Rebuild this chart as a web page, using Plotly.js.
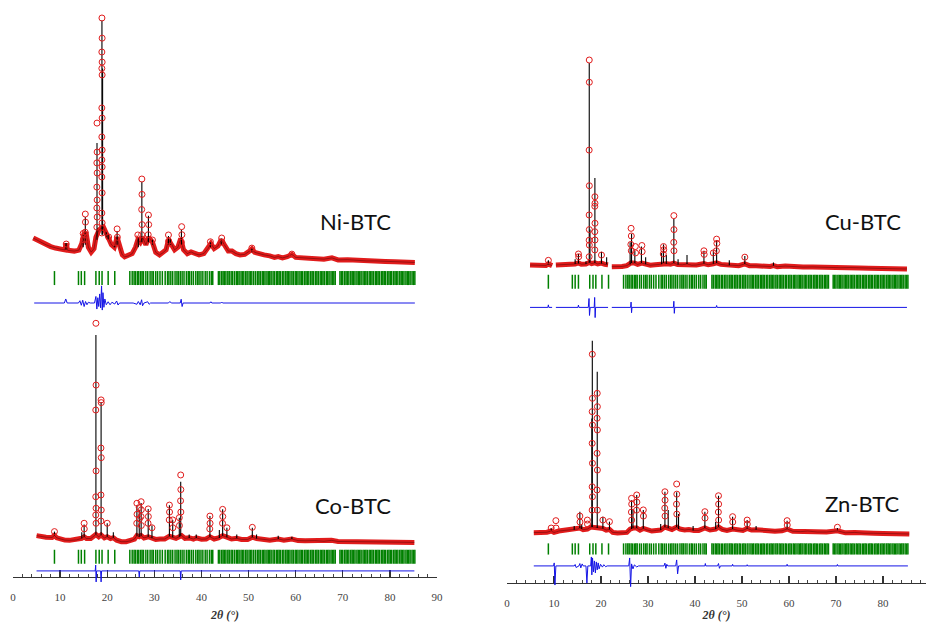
<!DOCTYPE html>
<html>
<head>
<meta charset="utf-8">
<script src="https://cdn.plot.ly/plotly-3.0.1.min.js"></script>
<style>html,body{margin:0;padding:0;background:#fff;}#chart{width:926px;height:622px;}</style>
</head>
<body>
<div id="chart"></div>
<script>
// ---------------- DATA (intensity in relative units, 2θ in degrees) ----------------
// Shared Bragg reflection positions (green tick marks)
const braggX = [8.8, 13.9, 14.5, 15.2, 17.6, 18.3, 18.9, 20.2, 21.6,
24.8, 25.3, 25.7, 26.0, 26.4, 26.7, 27.1, 27.4, 27.7, 28.2, 28.6, 29.1, 29.5, 29.8, 30.3, 30.7, 31.2, 31.7, 32.3, 32.8, 33.1, 33.5, 33.9, 34.4, 34.8, 35.1, 35.5, 35.9, 36.3, 36.8, 37.2, 37.5, 37.9, 38.3, 38.8, 39.2, 39.5, 39.9, 40.3, 40.8, 41.2, 41.7, 42.1, 42.4,
43.6, 43.9, 44.3, 44.6, 44.9, 45.2, 45.6, 45.9, 46.3, 46.6, 47.0, 47.4, 47.7, 48.0, 48.4, 48.7, 49.0, 49.4, 49.7, 50.1, 50.4, 50.7, 51.1, 51.5, 51.9, 52.2, 52.5, 52.9, 53.2, 53.5, 53.9, 54.2, 54.5, 54.8, 55.2, 55.5, 55.9, 56.2, 56.5, 56.8, 57.2, 57.5, 57.9, 58.2, 58.5, 58.8, 59.2, 59.5, 59.9, 60.2, 60.5, 60.9, 61.2, 61.5, 61.9, 62.2, 62.5, 62.8, 63.2, 63.5, 63.8, 64.2, 64.5, 64.8, 65.2, 65.5, 65.8, 66.1, 66.5, 66.8, 67.1, 67.5, 67.8, 68.1, 68.4, 69.4, 69.7, 70.0, 70.4, 70.7, 71.0, 71.3, 71.7, 72.0, 72.3, 72.6, 73.0, 73.3, 73.6, 73.9, 74.3, 74.6, 74.9, 75.2, 75.6, 75.9, 76.2, 76.5, 76.9, 77.2, 77.5, 77.8, 78.2, 78.5, 78.8, 79.1, 79.5, 79.8, 80.1, 80.4, 80.8, 81.1, 81.4, 81.7, 82.1, 82.4, 82.7, 83.0, 83.4, 83.7, 84.0, 84.3, 84.7, 85.0, 85.3];

// ---- Ni-BTC ----
const niBgX = [4.3,5,6,7,8,9,10,11,11.3,11.6,13,14,14.6,15.0,15.5,16.0,16.6,17.2,17.6,18.3,19.2,19.8,20.3,20.9,21.5,22.1,22.6,23.2,23.7,24.5,25.3,26.0,26.5,27.0,27.5,28.2,28.8,29.6,30.3,31.1,31.8,32.5,33.0,33.6,34.3,35.0,35.6,36.2,37.0,37.8,38.5,39.5,40.5,41.4,42.0,42.7,43.5,44.2,44.9,45.7,46.5,47.3,48.2,49.2,50.2,50.7,51.3,52.4,53.3,54.5,55.5,56.3,57.2,58.2,59.2,60.0,61.5,63.0,64.5,66.0,67.7,69.0,71.0,73.0,75.0,77.0,79.0,81.0,83.0,85.3];
const niBgY = [12.7,12.0,10.9,10.0,9.3,8.7,8.3,8.0,10.5,7.8,7.5,7.9,10.5,14,15,9,7.1,8.5,13,16,17,14,12.5,10,9,13,9,6,5.2,5.6,6.5,9,12,11,13,10,13,11,7,6.0,6.8,8,12,10.5,8,9,12.5,8,6.5,7.2,6.5,6.0,6.5,8.5,10.5,8.5,9.5,12,10,7.5,7.5,6.5,6.0,6.2,7.5,8.4,7,6.3,6.0,5.6,5.0,5.3,4.8,5.3,6.2,5.0,4.8,4.6,4.4,4.3,4.8,4.0,4.1,3.8,3.6,3.6,3.4,3.3,3.2,3.0];
const niPkX    = [11.25,14.9,15.35,17.83,18.88,19.02,19.8,20.2,21.6,22.1,26.6,27.35,28.75,29.6,33.0,33.4,35.75,41.9,44.2,50.7];
const niPkBase = [8,9,10,12,14,14,13,12,9,10,9,11,11,10,10,10,10,9,10,7];
const niPkCalc = [10.7,14,21,50.4,99,80,15,14,9.5,15.5,13,35,21.5,12,13.5,12.5,16,11,12.5,8.4];
const niObsX = [18.88,18.92,18.86,18.92,18.86,18.92,18.86,18.92,18.86,18.92,18.86,18.92,18.86,18.92,18.86,18.92,18.86,
 17.83,17.86,17.80,17.86,17.80,17.86,17.80,17.86,17.80,
 15.35,15.38,15.32,15.4, 14.9,14.95, 27.35,27.38,27.32,27.4,27.3, 28.75,28.8,28.7, 22.1,22.15,
 29.6,33.0,33.05,35.8,35.85,35.75,41.9,44.3,44.35,50.7,59.2,20.3,26.5,11.3];
const niObsY = [100,92,86.5,82.5,80,77.4,64.3,60.3,52.8,47.6,43.7,40.9,36.9,30.6,22.6,18.7,14.7,
 58.3,46.8,42.5,38.5,32.9,27.8,24.6,21,17,
 22.2,19,15,12, 14.5,12, 36.1,30,24,18,14, 21.8,18,14, 16.3,13,
 11.9,13.9,11.5,17.2,14,11,11.2,12.7,11,8.7,6.3,13.1,13.9,10.3];
const niDiffX = [4.5,10.9,11.2,11.5,13.9,14.2,14.5,14.8,15.1,15.4,15.7,16.0,16.4,17.3,17.6,17.8,18.0,18.2,18.4,18.6,18.8,18.95,19.1,19.3,19.5,19.8,20.2,20.6,21.0,21.6,22.0,22.3,22.6,25.5,26.3,26.6,27.0,27.3,27.5,27.8,28.6,28.9,29.2,33.0,33.3,33.6,35.5,35.7,35.9,36.1,41.8,42.0,42.2,44.1,44.3,44.5,85.3];
const niDiffY = [-13.1,-13.1,-11.5,-13.1,-13.1,-12.2,-14.0,-12.0,-14.5,-12.5,-13.8,-12.8,-13.1,-13.1,-10.5,-15.5,-11.0,-14.5,-9.5,-15.0,-6.3,-15.9,-9.0,-14.8,-11.5,-13.8,-12.6,-13.8,-12.8,-13.5,-12.3,-13.9,-13.1,-13.1,-13.6,-12.5,-13.8,-11.8,-14.2,-13.1,-12.6,-13.6,-13.1,-13.1,-12.5,-13.1,-13.1,-11.6,-14.5,-13.1,-13.1,-12.6,-13.1,-13.1,-12.7,-13.1,-13.1];

// ---- Cu-BTC ----
const cuBgX = [4.9,6,7,8.3,8.8,9.3,9.6,null,10.4,11.5,12.5,13.5,14.5,15.2,15.8,16.8,17.5,18.0,18.7,19.3,20.1,20.8,21.5,null,22.3,23.5,24.5,25.5,26.4,27.2,27.8,28.7,29.5,30.5,31.5,32.5,33.3,34.0,34.8,35.5,36.3,37.3,38.3,39.3,40.3,41.9,42.8,43.9,44.6,45.5,46.8,48.0,49.3,50.6,51.6,53.0,54.5,56.0,56.7,57.5,59.2,61,63,65,67,69,71,73,75,77,79,81,83,85.1];
const cuBgY = [3.3,3.2,3.0,3.1,3.8,3.2,3.0,null,3.3,3.4,3.3,3.5,3.8,4.3,3.7,3.8,4.5,4,4.3,3.8,4.2,3.6,3.4,null,2.5,2.4,2.6,3.0,4.3,4.2,3.6,4.2,3.6,3.2,3.4,3.6,4.3,3.9,3.7,4.2,3.5,3.4,3.8,3.2,3.3,4.0,3.4,3.9,4.3,3.6,3.2,3.2,3.0,3.8,3.0,2.9,2.7,2.6,3.0,2.5,2.8,2.4,2.3,2.4,2.2,2.2,2.0,2.1,1.9,1.8,1.8,1.6,1.5,1.4];
const cuPkX    = [8.8,14.5,15.2,16.8,17.5,17.65,18.7,20.1,21.2,26.2,26.5,27.2,28.6,29.5,32.9,33.3,33.9,35.5,36.4,38.3,41.9,43.9,44.6,47.3,50.6,56.7];
const cuPkBase = [3.5,3.8,4,3.8,4.5,4.5,4.3,4,3.6,3.5,4.3,4.2,4.2,3.6,3.6,4.3,3.9,4.2,3.5,3.8,4,3.9,4.3,3.2,3.8,3.0];
const cuPkCalc = [5.5,6,8.5,5,98.6,20,44.3,9.5,7,14,18,10,12,7,9,13,8,25,6,8,10,10,15,5.5,7.5,4.5];
const cuObsX = [17.5,17.52,17.48,17.52,17.48,17.52,17.48,17.52,17.48,
 18.7,18.72,18.68,18.72,18.68,18.72,18.68,
 26.4,26.45,26.35,26.45, 27.3,27.35, 28.7,28.75, 33.3,33.35,33.25, 35.5,35.52,35.48,35.52,
 41.9,41.95, 44.6,44.65,44.55, 43.9,50.6,15.2,15.25,20.1,8.8];
const cuObsY = [100,89.5,57.5,40.7,26.9,20,15,12.7,7.2,
 35.5,32.4,31,23,19,15.1,10.4,
 20.6,17,13,10, 12,9, 12.5,9.6, 12,10.5,8.5, 26.6,20,14,10,
 10,8.3, 15.5,13.5,10, 9,7,8.5,7.2,8,5.5];
const cuDiffX = [4.9,8.7,8.8,8.9,9.6,null,10.4,15.1,15.2,15.3,17.3,17.45,17.55,17.7,18.55,18.65,18.75,18.85,21.5,null,22.3,26.3,26.4,26.5,26.6,35.4,35.5,35.6,35.7,44.5,44.6,44.7,85.1];
const cuDiffY = [-16.7,-16.7,-15.5,-16.7,-16.7,null,-16.7,-16.7,-15.6,-16.7,-16.7,-12.5,-20.5,-16.7,-16.7,-12,-21.5,-16.7,-16.7,null,-16.7,-16.7,-14.2,-19.2,-16.7,-16.7,-13.8,-19.5,-16.7,-16.7,-15.8,-16.7,-16.7];

// ---- Co-BTC ----
const coBgX = [5.0,6,7,8.3,8.8,9.3,10,11,12,13.5,14.6,15.1,15.6,16.5,17.6,18.2,18.7,19.4,20.0,20.7,21.3,22.0,23,24,25,25.8,26.3,26.8,27.2,27.8,28.7,29.5,30.3,31.2,32.2,33.2,33.9,34.6,35.3,35.8,36.5,37.4,38.3,38.9,40.0,41.0,41.8,42.7,43.6,44.5,45.4,46.4,47.5,48.5,49.8,50.8,51.7,53.0,54.5,56.3,57.5,59.2,60.5,62,64,66,67.6,69,71,73,75,77.9,80,82,85.2];
const coBgY = [5.5,5.0,4.8,4.7,5.6,4.5,4.0,3.5,3.4,3.6,4.3,5.0,4.2,4.2,6.0,5.0,5.8,4.5,5.0,4.2,4.6,3.5,2.8,2.8,3.2,4.0,5.5,5.0,5.5,4.5,5.0,4.5,3.8,4.0,4.0,5.2,4.8,4.3,5.0,5.5,4.3,4.5,4.0,4.5,3.9,4.0,5.0,4.0,4.5,5.5,4.8,4.0,4.3,3.8,3.8,4.8,4.2,3.9,3.5,4.0,3.5,4.0,3.3,3.2,3.3,3.0,3.4,2.9,2.9,2.8,2.7,2.9,2.6,2.6,2.5];
const coPkX    = [8.8,14.6,15.1,17.6,18.7,20.0,21.3,26.3,26.8,27.2,28.7,29.5,33.2,33.9,35.3,35.6,37.4,38.9,41.8,43.8,44.5,45.4,47.5,50.8,51.7,56.3,59.2];
const coPkBase = [5.6,4.3,5,6,5.8,5,4.6,5.5,5,5.5,5,4.5,5.2,4.8,5,5.5,4.5,4.5,5,4.5,5.5,4.8,4.3,4.8,4.2,4,4];
const coPkCalc = [7.3,7,10.5,94.8,65,11,7,19,17,20,17.4,10,19,12.5,13.5,29.5,6,6,14.2,8,17.2,9,6,9,6,5.5,5];
const coObsX = [17.6,17.63,17.57,17.63,17.57,17.63,17.57,17.63,
 18.7,18.73,18.67,18.73,18.67,18.73,18.67,
 26.3,26.33,26.27, 26.8,26.83, 27.2,27.23,27.17,27.23, 28.7,28.73,28.67, 33.2,33.23,33.17, 33.9,33.93, 35.3,35.33,
 35.6,35.63,35.57,35.63, 41.8,41.83,41.77, 44.5,44.53,44.47,
 45.4,15.1,15.13,20.0,8.8,50.8,29.5];
const coObsY = [100,72.5,61.4,34.3,22.8,17.7,14.7,11,
 65.9,64.7,44.5,40.2,23.6,16.9,12,
 19.9,15,11, 18,13, 20.6,17,14,10, 17.4,14,11, 19.1,16,12.5, 12.5,9, 13.5,10,
 32.5,26,21,16, 14.2,11,8.5, 17.2,14,11,
 9,11,8.5,11,7.3,9.2,9];
const coDiffX = [5.0,17.45,17.55,17.65,17.75,18.6,18.7,18.8,26.7,26.8,26.9,35.5,35.6,35.7,85.2];
const coDiffY = [-10.2,-10.2,-7.6,-15.1,-10.2,-10.2,-15.1,-10.2,-10.2,-12.9,-10.2,-10.2,-14.2,-10.2,-10.2];

// ---- Zn-BTC ----
const znBgX = [5.7,7,8.5,9.4,10.0,11,12,13,14.3,15.0,15.5,16.2,17.1,17.8,18.6,19.6,20.4,21.1,21.8,22.5,23.5,24.5,25.5,26.2,26.8,27.6,28.3,29.0,29.8,30.8,31.8,32.7,33.6,34.3,35.1,36.1,36.8,37.8,38.7,39.8,40.8,42.1,43.2,44.4,45.0,45.8,46.8,48.0,49.2,50.2,51.1,52.0,53.0,54.2,55.5,57.0,58.5,59.6,60.8,62.5,64.0,66.0,68.0,70.3,72.0,74.0,76.0,78.0,80.0,82.0,84.0,85.6];
const znBgY = [3.7,3.7,3.9,4.5,3.8,4.5,4.8,4.9,5.2,5.5,6.0,5.2,5.5,6.5,6.5,6.0,5.8,5.0,5.3,3.8,3.5,3.5,3.8,5.5,6.0,6.0,5.0,5.8,5.0,4.5,4.8,5.0,6.5,6.0,5.3,6.5,5.5,5.0,5.3,4.8,4.8,6.0,5.0,5.5,6.5,5.3,4.8,5.5,4.8,4.8,5.8,5.0,5.2,4.8,4.8,4.4,4.6,5.5,4.4,4.2,4.5,4.0,4.0,4.6,3.6,3.8,3.4,3.4,3.3,3.2,3.1,3.0];
const znPkX    = [9.4,14.3,15.5,15.9,18.05,18.15,19.2,20.4,21.8,26.5,26.8,27.6,29.0,32.7,33.6,34.3,36.1,36.5,39.6,42.1,44.4,45.0,48.0,51.1,53.0,59.6,70.3];
const znPkBase = [4.5,5.2,6,5.5,6.5,6.5,6,5.8,5.3,5.5,6,6,5.8,5,6.5,6,6.5,5.5,4.8,6,5.5,6.5,5.5,5.8,5.2,5.5,4.6];
const znPkCalc = [5.9,7,14.2,8,61,100,84.4,11.7,9.2,20,15,22.6,15.1,8,24.2,15,24,13,7,14.2,9,22.2,11.7,10,7,9.7,6];
const znObsX = [18.15,18.18,18.12,18.18,18.12,18.18,18.12,18.18,18.12,
 19.2,19.23,19.17,19.23,19.17,19.23,19.17,19.23,
 10.4,10.43, 17.1,17.13, 15.5,15.53, 26.5,26.53,26.47,26.53, 27.6,27.63,27.57, 29.0,29.03,
 33.6,33.63,33.57,33.63, 36.1,36.13,36.07,36.13, 42.1,42.13, 45.0,45.03,44.97,45.03,
 48.0,48.03, 51.1,51.13, 59.6,59.63, 70.3,20.4,21.8,9.4];
const znObsY = [93.2,71.1,64.4,57.7,48.5,38.5,26.7,21.7,15,
 73.6,66.9,61.1,55.2,43.5,35.1,25.1,15,
 9.7,6, 10,8, 12,9, 20.9,18,14,10, 22.6,19,15, 15.1,12,
 24.2,20,16,12, 28.1,23,18,13, 14.2,11, 22.2,18,14,10,
 11.7,9, 10,8, 9.7,7.5, 6.4,10,9.2,6];
const znDiffX = [5.7,9.9,10.05,10.2,10.4,14.3,14.5,14.7,15.3,15.5,15.7,16.0,16.2,16.8,17.0,17.2,17.8,17.95,18.05,18.2,18.4,18.6,18.8,19.0,19.2,19.4,19.6,19.9,20.3,20.6,21.0,21.3,25.9,26.1,26.3,26.5,26.8,27.1,27.6,28.0,33.4,33.6,33.8,34.0,34.2,35.9,36.1,36.3,36.5,42.1,42.2,42.3,44.8,45.0,45.2,45.4,47.9,48.0,48.1,51.0,51.1,51.2,59.5,59.6,59.7,70.2,70.3,70.4,85.3];
const znDiffY = [-13,-13,-11.5,-22.6,-13,-13,-12.3,-13.8,-13,-11.8,-14,-12,-13,-13,-21.6,-13,-13,-8.5,-17.5,-9,-16,-10.5,-16.5,-11,-15,-11.5,-14.5,-12.2,-13.6,-12.4,-13.4,-13,-13,-9,-23.4,-12,-14.5,-12.5,-13.5,-13,-13,-11.6,-14.2,-12.2,-13,-13,-10,-17,-13,-13,-11.8,-13,-13,-11.8,-14.2,-13,-13,-12.2,-13,-13,-12.4,-13,-13,-12.2,-13,-13,-12.3,-13,-13];

const labels = ['Ni-BTC','Cu-BTC','Co-BTC','Zn-BTC'];
const tickLabels = ['0','10','20','30','40','50','60','70','80','90'];

// ---------------- BUILD ----------------
const W = 926, H = 622;
const RED = 'rgb(225,28,28)', GREEN = 'rgb(0,128,0)', BLUE = 'rgb(20,20,230)';

function panelTraces(xa, ya, bgX, bgY, pkX, pkBase, pkTop, obsX, obsY, dX, dY, tickLevel, tickLen) {
  const sx = [], sy = [];
  pkX.forEach((x, i) => { sx.push(x, x, null); sy.push(pkBase[i], pkTop[i], null); });
  const common = {xaxis: xa, yaxis: ya, hoverinfo: 'skip', showlegend: false};
  return [
    Object.assign({type: 'scatter', mode: 'lines', x: bgX, y: bgY, line: {color: RED, width: 5}, connectgaps: false}, common),
    Object.assign({type: 'scatter', mode: 'lines', x: bgX, y: bgY, line: {color: 'rgba(60,0,0,0.55)', width: 0.8}, connectgaps: false}, common),
    Object.assign({type: 'scatter', mode: 'lines', x: sx, y: sy, line: {color: 'black', width: 1.1}, connectgaps: false}, common),
    Object.assign({type: 'scatter', mode: 'markers', x: obsX, y: obsY,
      marker: {symbol: 'circle-open', size: 6, color: RED, line: {width: 1, color: RED}}}, common),
    Object.assign({type: 'scatter', mode: 'markers', x: braggX, y: braggX.map(() => tickLevel),
      marker: {symbol: 'line-ns-open', size: tickLen, color: GREEN, line: {width: 1.5, color: GREEN}}}, common),
    Object.assign({type: 'scatter', mode: 'lines', x: dX, y: dY, line: {color: BLUE, width: 1}, connectgaps: false}, common)
  ];
}

const data = [].concat(
  panelTraces('x', 'y', niBgX, niBgY, niPkX, niPkBase, niPkCalc, niObsX, niObsY, niDiffX, niDiffY, -3.2, 10),
  panelTraces('x2', 'y2', cuBgX, cuBgY, cuPkX, cuPkBase, cuPkCalc, cuObsX, cuObsY, cuDiffX, cuDiffY, -4.6, 10),
  panelTraces('x', 'y3', coBgX, coBgY, coPkX, coPkBase, coPkCalc, coObsX, coObsY, coDiffX, coDiffY, -3.9, 10),
  panelTraces('x2', 'y4', znBgX, znBgY, znPkX, znPkBase, znPkCalc, znObsX, znObsY, znDiffX, znDiffY, -4.5, 8)
);

function yAxis(pyTop, pyBot, zeroPx, pxPerUnit, anchor) {
  return {domain: [1 - pyBot / H, 1 - pyTop / H],
          range: [(zeroPx - pyBot) / pxPerUnit, (zeroPx - pyTop) / pxPerUnit],
          visible: false, anchor: anchor, fixedrange: true};
}
function xAxis(pxLeft, pxRight, pxZero, pxPerDeg, pyLine) {
  return {domain: [pxLeft / W, pxRight / W],
          range: [(pxLeft - pxZero) / pxPerDeg, (pxRight - pxZero) / pxPerDeg],
          anchor: 'free', position: 1 - pyLine / H,
          showline: true, linecolor: '#333', linewidth: 1.3, mirror: false,
          showgrid: false, zeroline: false,
          ticks: 'inside', ticklen: 7, tickwidth: 1.3, tickcolor: '#333',
          tickmode: 'array', tickvals: tickLabels.map(Number), ticktext: tickLabels,
          ticklabelstandoff: 9,
          minor: {dtick: 2, tick0: 0, ticks: 'inside', ticklen: 3.5, tickwidth: 1, tickcolor: '#444', showgrid: false},
          tickfont: {family: '"Liberation Serif", "Times New Roman", serif', size: 11, color: '#444'},
          title: {text: '2θ (°)', standoff: 10,
                  font: {family: '"Liberation Serif", "Times New Roman", serif', size: 12, color: '#333', weight: 'bold', style: 'italic'}},
          fixedrange: true};
}

const layout = {
  width: W, height: H,
  margin: {l: 0, r: 0, t: 0, b: 0},
  paper_bgcolor: 'white', plot_bgcolor: 'rgba(0,0,0,0)',
  showlegend: false,
  xaxis: xAxis(13, 437, 13, 4.711, 577),
  xaxis2: xAxis(507, 926, 507, 4.7, 583),
  yaxis: yAxis(0, 315, 270, 2.52, 'x'),
  yaxis2: yAxis(0, 322, 272, 2.12, 'x2'),
  yaxis3: yAxis(315, 590, 548, 2.247, 'x'),
  yaxis4: yAxis(322, 600, 540, 1.993, 'x2'),
  annotations: [
    {text: labels[0], xref: 'x', yref: 'y', x: 72.8, y: 19.4},
    {text: labels[1], xref: 'x2', yref: 'y2', x: 75.7, y: 23.6},
    {text: labels[2], xref: 'x', yref: 'y3', x: 72.2, y: 19.1},
    {text: labels[3], xref: 'x2', yref: 'y4', x: 75.7, y: 18.1}
  ].map(a => Object.assign(a, {showarrow: false, xanchor: 'center', yanchor: 'middle',
      font: {family: 'Lato, "Open Sans", sans-serif', size: 22, color: '#111'}}))
};

Plotly.newPlot('chart', data, layout, {staticPlot: true, displayModeBar: false});
</script>
</body>
</html>
